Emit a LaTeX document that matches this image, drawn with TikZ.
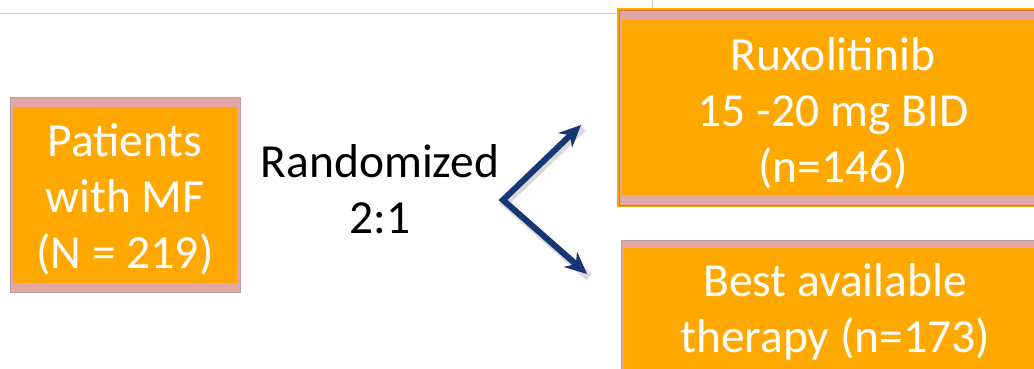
\documentclass[tikz,border=0pt]{standalone}
\usepackage{fontspec}
\setmainfont{Carlito}
\usetikzlibrary{arrows.meta,backgrounds}
\definecolor{boxorange}{RGB}{255,168,0}
\definecolor{strippink}{RGB}{226,166,166}
\definecolor{navy}{RGB}{24,54,116}
\definecolor{rulegray}{RGB}{206,206,206}
\definecolor{rimbrown}{RGB}{190,125,45}
\definecolor{rimgray}{RGB}{185,160,160}
\tikzset{
  armtext/.style={text=white, align=center, inner sep=0pt,
    font=\fontsize{47.5}{56}\selectfont},
  plaintext/.style={align=center, inner sep=0pt, font=\fontsize{47.5}{56}\selectfont},
  pinkframe/.style={fill=strippink, draw=rimgray, line width=0.6pt},
  orangefill/.style={fill=boxorange},
  armarrow/.style={navy, line width=6pt, line join=miter,
    {Stealth[length=22pt,width=20pt]}-{Stealth[length=22pt,width=20pt]}},
  armshadow/.style={black, opacity=0.15, line width=8pt, line join=miter}
}
\begin{document}
\begin{tikzpicture}[x=1pt,y=-1pt]
\useasboundingbox (0,0) rectangle (1034,368);

% box texts (the boxes are drawn behind them)
\node[armtext] (pat) at (125,199) {Patients\\with MF\\(N = 219)};
\node[armtext] (rux) at (833,113) {Ruxolitinib\\15 -20 mg BID\\(n=146)};
\node[armtext] (bat) at (835,312) {Best available\\therapy (n=173)};

\begin{pgfonlayer}{background}
  \fill[white] (0,0) rectangle (1034,368);
  \draw[rulegray, line width=1pt] (0,13) -- (617,13);
  \draw[rulegray, line width=1pt] (652,0) -- (652,8);
  % patients box
  \path[pinkframe] ([shift={(-115,-102)}]pat.center) rectangle ([shift={(115,93)}]pat.center);
  \path[orangefill] ([shift={(-112,-92)}]pat.center) rectangle ([shift={(112,84)}]pat.center);
  % ruxolitinib box
  \path[orangefill] ([shift={(-216,-105)}]rux.center) rectangle ([shift={(217,94)}]rux.center);
  \path[pinkframe, draw=rimbrown, line width=0.8pt]
    ([shift={(-214,-103)}]rux.center) rectangle ([shift={(215,92)}]rux.center);
  \path[orangefill] ([shift={(-211,-93)}]rux.center) rectangle ([shift={(211,82)}]rux.center);
  % best available therapy box
  \path[pinkframe] ([shift={(-214,-72)}]bat.center) rectangle ([shift={(215,68)}]bat.center);
  \path[orangefill] ([shift={(-211,-64)}]bat.center) rectangle ([shift={(211,68)}]bat.center);
\end{pgfonlayer}

% randomisation label
\node[plaintext] (rand) at (380,189) {Randomized\\2:1};

% arrows
\coordinate (v) at (503,200);
\coordinate (up) at (581,125);
\coordinate (dn) at (587,274);
\draw[armshadow] ([shift={(2,3)}]up) -- ([shift={(2,3)}]v) -- ([shift={(2,3)}]dn);
\draw[armarrow] (up) -- (v) -- (dn);
\end{tikzpicture}
\end{document}
